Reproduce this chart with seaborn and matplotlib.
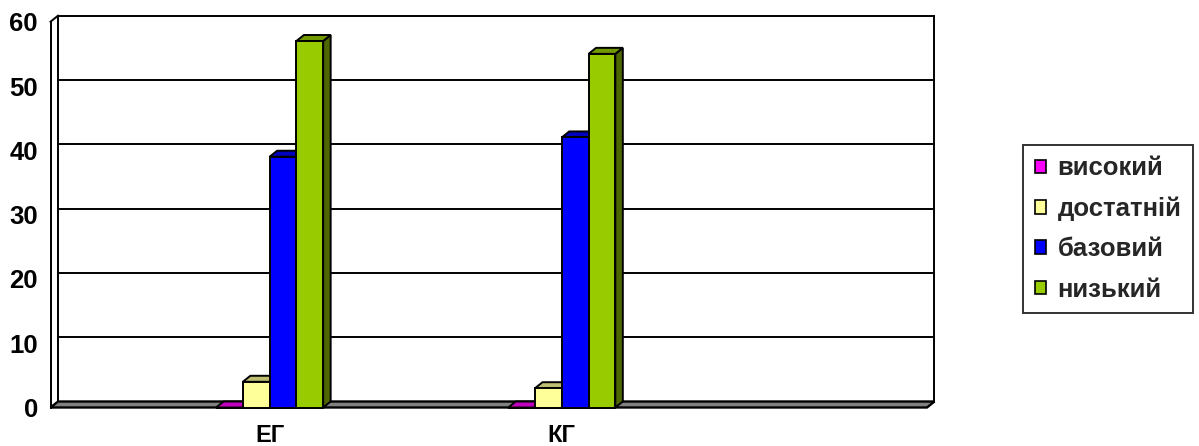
import numpy as np
import pandas as pd
import matplotlib
matplotlib.use("Agg")
import matplotlib.pyplot as plt
import matplotlib.colors as mcolors
from matplotlib.patches import Polygon
import seaborn as sns

# ---- data ----
groups = ["ЕГ", "КГ"]
levels = ["високий", "достатній", "базовий", "низький"]
eg_values = [0, 4, 39, 57]
kg_values = [0, 3, 42, 55]
slots = ["", "ЕГ", " ", "КГ", "  ", "   "]   # category slots along the x axis
colors = ["#FF00FF", "#FFFF99", "#0000FF", "#99CC00"]
y_ticks = [0, 10, 20, 30, 40, 50, 60]

df = pd.DataFrame({
    "group": np.repeat(groups, len(levels)),
    "level": levels * len(groups),
    "value": eg_values + kg_values,
})

sns.set_style("white")
plt.rcParams["font.family"] = ["Liberation Sans", "DejaVu Sans"]
plt.rcParams["font.weight"] = "bold"

W, H, DPI = 1199, 446, 100
fig = plt.figure(figsize=(W / DPI, H / DPI), dpi=DPI)
ax_left, ax_right, ax_bottom, ax_top = 50.5, 927.0, 407.5, 21.7
ax = fig.add_axes([ax_left / W, (H - ax_bottom) / H,
                   (ax_right - ax_left) / W, (ax_bottom - ax_top) / H])

LW = 1.4
sns.barplot(data=df, x="group", y="value", hue="level", order=slots,
            hue_order=levels, palette=colors, width=0.733, saturation=1,
            edgecolor="black", linewidth=LW, errorbar=None, ax=ax)
# only the real bars (seaborn also adds empty legend proxies)
bars = sorted([p for p in ax.patches if p.get_width() > 0],
              key=lambda p: p.get_x())

ax.set_xlim(-0.5, len(slots) - 0.5)
ax.set_ylim(0, 60)

# depth of the pseudo-3D box, in data units
depth_px = (7.5, 6.0)
ddx = depth_px[0] / ((ax_right - ax_left) / len(slots))
ddy = depth_px[1] / ((ax_bottom - ax_top) / 60)
x0, x1 = -0.5, len(slots) - 0.5

line_kw = dict(color="black", lw=LW, clip_on=False, solid_capstyle="projecting")
# back wall gridlines and outline
for v in y_ticks[1:]:
    ax.plot([x0 + ddx, x1 + ddx], [v + ddy, v + ddy], zorder=1, **line_kw)
ax.plot([x1 + ddx, x1 + ddx], [ddy, 60 + ddy], zorder=1, **line_kw)
# left side wall
ax.plot([x0 + ddx, x0 + ddx], [ddy, 60 + ddy], zorder=1, **line_kw)
ax.plot([x0, x0 + ddx], [60, 60 + ddy], zorder=1, **line_kw)
ax.plot([x0, x0], [0, 60], zorder=1, **line_kw)

# floor
floor = Polygon([(x0, 0), (x1, 0), (x1 + ddx, ddy), (x0 + ddx, ddy)],
                closed=True, facecolor="#808080", edgecolor="black", lw=LW + 0.3,
                clip_on=False, zorder=2, joinstyle="miter")
ax.add_patch(floor)


def shade(c, f):
    r, g, b, a = mcolors.to_rgba(c)
    return (r * f, g * f, b * f, a)


# extrude each bar: side face, top face, then the front on top
for i, p in enumerate(bars):
    bx, bw, bh = p.get_x(), p.get_width(), p.get_height()
    fc = p.get_facecolor()
    z = 3 + i * 0.1
    side = Polygon([(bx + bw, 0), (bx + bw, bh), (bx + bw + ddx, bh + ddy),
                    (bx + bw + ddx, ddy)], closed=True, facecolor=shade(fc, 0.5),
                   edgecolor="black", lw=LW, zorder=z, clip_on=False)
    top = Polygon([(bx, bh), (bx + bw, bh), (bx + bw + ddx, bh + ddy),
                   (bx + ddx, bh + ddy)], closed=True, facecolor=shade(fc, 0.75),
                  edgecolor="black", lw=LW, zorder=z, clip_on=False)
    ax.add_patch(side)
    ax.add_patch(top)
    p.set_zorder(z + 0.05)
    p.set_clip_on(False)

# axes styling
for s in ["top", "right", "bottom", "left"]:
    ax.spines[s].set_visible(False)
ax.grid(False)
ax.set_xlabel("")
ax.set_ylabel("")
ax.set_yticks(y_ticks)
ax.tick_params(axis="y", length=3, width=1.3, color="black", pad=6,
               labelsize=18.5, labelcolor="black")
ax.set_xticks(range(len(slots)))
ax.set_xticklabels(slots)
ax.set_xticks(np.arange(-0.5, len(slots), 1), minor=True)
ax.tick_params(axis="x", which="major", length=0, pad=12, labelsize=17,
               labelcolor="black")
ax.tick_params(axis="x", which="minor", length=3.5, width=1.3, color="black",
               direction="out")
for t in ax.get_xticklabels() + ax.get_yticklabels():
    t.set_fontweight("bold")

# legend
handles, labels = ax.get_legend_handles_labels()
if ax.get_legend() is not None:
    ax.get_legend().remove()
leg = fig.legend(handles, labels, loc="center",
                 bbox_to_anchor=(1108 / W, (H - 229) / H),
                 frameon=True, fancybox=False, edgecolor="black",
                 fontsize=18.5, handlelength=0.43, handleheight=0.43,
                 handletextpad=0.47, labelspacing=0.63, borderpad=0.45,
                 borderaxespad=0)
leg.get_frame().set_linewidth(LW)
for h in leg.legend_handles:
    h.set_edgecolor("black")
    h.set_linewidth(1.2)
for t in leg.get_texts():
    t.set_fontweight("bold")

fig.savefig("out.png", dpi=DPI)
